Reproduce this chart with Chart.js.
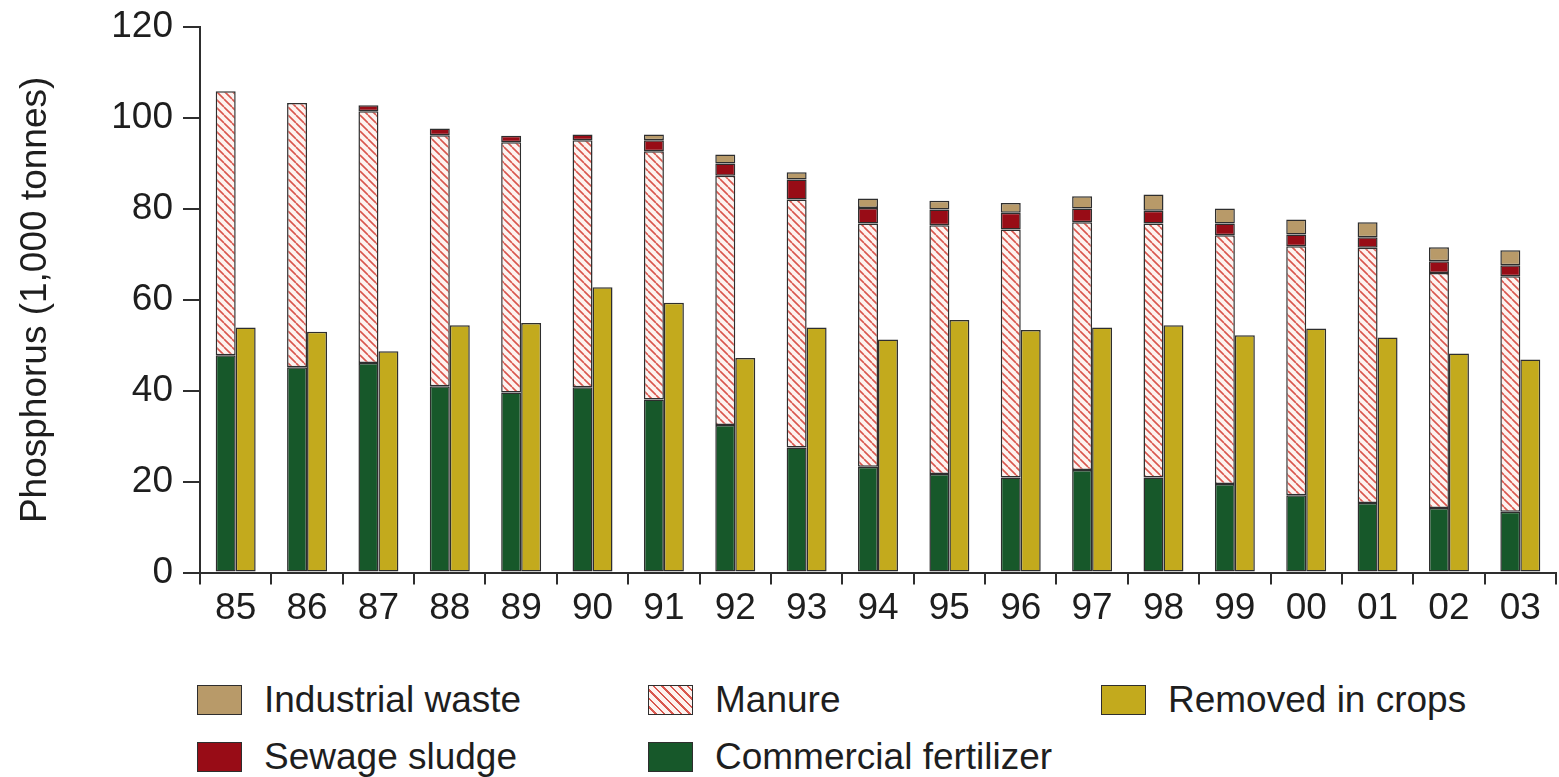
<!DOCTYPE html>
<html>
<head>
<meta charset="utf-8">
<script src="https://cdn.jsdelivr.net/npm/chart.js@4/dist/chart.umd.min.js"></script>
<style>
    body { margin: 0; background: #fff; overflow: hidden; }
    #wrap { position: relative; width: 1559px; height: 777px; font-family: "Liberation Sans", Arial, sans-serif; overflow: hidden; }
    #chartBox { position: absolute; left: 0; top: -5px; width: 1559px; height: 646px; }
    .leg { position: absolute; display: flex; align-items: center; font-size: 37px; color: #1e1e1e; white-space: nowrap; }
    .leg .box { width: 43px; height: 28px; border: 1.5px solid #2e2e2e; margin-right: 22px; }
</style>
</head>
<body>
<div id="wrap">
    <div id="chartBox"><canvas id="printChartId"></canvas></div>
    <div id="legend"></div>
</div>
<script>
// years (x axis)
var years = ["85", "86", "87", "88", "89", "90", "91", "92", "93", "94", "95", "96", "97", "98", "99", "00", "01", "02", "03"];

// inputs, stacked from bottom
var fertilizer = [47.8, 45.2, 46.1, 41.0, 39.6, 40.8, 38.1, 32.5, 27.5, 23.3, 21.7, 20.9, 22.6, 20.9, 19.5, 17.0, 15.3, 14.2, 13.4];
var manure     = [58.1, 58.1, 55.4, 55.2, 55.1, 54.3, 54.6, 54.8, 54.6, 53.5, 54.7, 54.6, 54.5, 55.9, 54.7, 54.8, 56.2, 51.7, 51.8];
var sludge     = [0, 0, 1.3, 1.5, 1.4, 1.3, 2.4, 2.7, 4.4, 3.4, 3.5, 3.7, 3.0, 2.8, 2.6, 2.6, 2.3, 2.6, 2.4];
var industrial = [0, 0, 0, 0, 0, 0, 1.3, 2.0, 1.6, 2.1, 1.9, 2.1, 2.7, 3.6, 3.3, 3.3, 3.3, 3.1, 3.3];

// output
var crops = [53.9, 53.0, 48.7, 54.4, 54.9, 62.8, 59.4, 47.2, 53.9, 51.3, 55.6, 53.4, 53.9, 54.4, 52.2, 53.7, 51.7, 48.2, 46.9];

var yTicks = [0, 20, 40, 60, 80, 100, 120];

var fontName = "'Liberation Sans', Arial, sans-serif";
var borde = "#2e2e2e";

// trama rayada del estiercol
function hatch() {
    var s = 8;
    var c = document.createElement("canvas");
    c.width = s; c.height = s;
    var ctx = c.getContext("2d");
    ctx.fillStyle = "#fdf3f0";
    ctx.fillRect(0, 0, s, s);
    ctx.strokeStyle = "#d9574e";
    ctx.lineWidth = 1.6;
    ctx.beginPath();
    for (var k = -s; k <= s; k += s) {
        ctx.moveTo(k, 0);
        ctx.lineTo(k + s, s);
    }
    ctx.stroke();
    return ctx.createPattern(c, "repeat");
}

var datasets = [
    { label: "Commercial fertilizer", data: fertilizer, backgroundColor: "#17582a", stack: "in" },
    { label: "Manure", data: manure, backgroundColor: hatch(), stack: "in" },
    { label: "Sewage sludge", data: sludge, backgroundColor: "#980c16", stack: "in" },
    { label: "Industrial waste", data: industrial, backgroundColor: "#b89a69", stack: "in" },
    { label: "Removed in crops", data: crops, backgroundColor: "#c3aa1d", stack: "out" }
];
datasets.forEach(function (d) {
    d.borderColor = borde;
    d.borderWidth = 1.5;
    d.borderSkipped = false;
    d.categoryPercentage = 0.56;
    d.barPercentage = 1.0;
});

var barChart = new Chart(document.getElementById("printChartId"), {
    type: "bar",
    data: { labels: years, datasets: datasets },
    options: {
        responsive: true,
        maintainAspectRatio: false,
        animation: false,
        layout: { padding: { left: 10, right: 3, top: 0, bottom: 8 } },
        plugins: { legend: { display: false }, tooltip: { enabled: false } },
        scales: {
            x: {
                stacked: true,
                grid: { offset: true, drawOnChartArea: false, tickLength: 12, color: borde, lineWidth: 2 },
                border: { color: borde, width: 2 },
                ticks: { color: "#1e1e1e", font: { family: fontName, size: 37 }, padding: 2, maxRotation: 0 }
            },
            y: {
                stacked: true,
                min: 0,
                max: 120,
                afterBuildTicks: function (axis) {
                    axis.ticks = yTicks.map(function (v) { return { value: v }; });
                },
                afterFit: function (axis) { axis.width = 190; },
                grid: { drawOnChartArea: false, tickLength: 17, color: borde, lineWidth: 2 },
                border: { color: borde, width: 2 },
                ticks: { color: "#1e1e1e", font: { family: fontName, size: 37 }, padding: 10 },
                title: {
                    display: true,
                    text: "Phosphorus (1,000 tonnes)",
                    color: "#1e1e1e",
                    font: { family: fontName, size: 37 },
                    padding: { top: 4, bottom: 0 }
                }
            }
        }
    }
});

// leyenda en tres columnas
var legendPos = [
    { name: "Industrial waste", x: 197, y: 683 },
    { name: "Sewage sludge", x: 197, y: 740 },
    { name: "Manure", x: 648, y: 683 },
    { name: "Commercial fertilizer", x: 648, y: 740 },
    { name: "Removed in crops", x: 1101, y: 683 }
];
var legendHtml = "";
legendPos.forEach(function (p) {
    var ds = datasets.filter(function (d) { return d.label === p.name; })[0];
    var bg = typeof ds.backgroundColor === "string" ? "background:" + ds.backgroundColor :
        "background: repeating-linear-gradient(45deg, #fdf3f0 0px, #fdf3f0 4px, #d9574e 4px, #d9574e 6px)";
    legendHtml += '<div class="leg" style="left:' + p.x + 'px;top:' + (p.y - 4) + 'px;height:42px">' +
        '<div class="box" style="' + bg + '"></div><span>' + p.name + '</span></div>';
});
document.getElementById("legend").innerHTML = legendHtml;
</script>
</body>
</html>
